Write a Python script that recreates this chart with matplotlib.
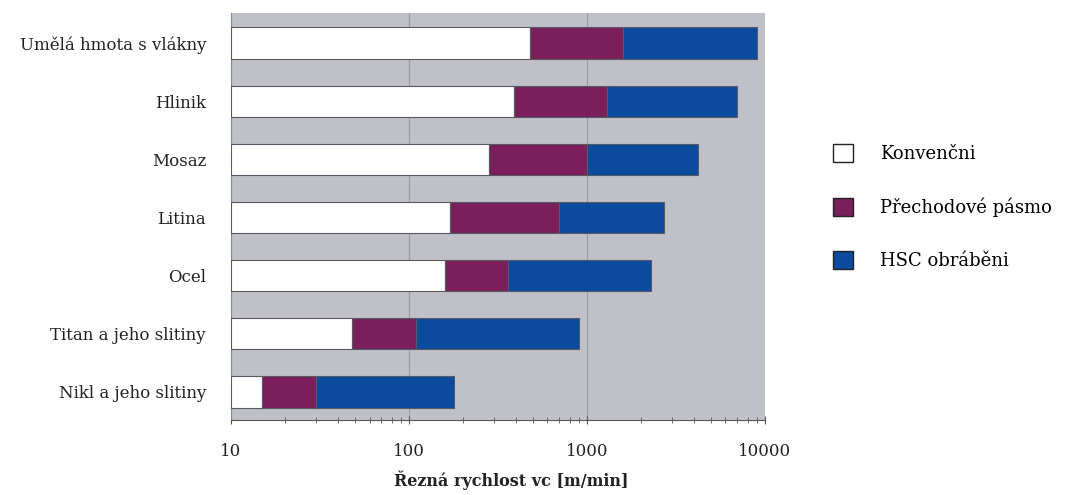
import matplotlib.pyplot as plt
import numpy as np
from matplotlib.patches import Patch

plt.rcParams["font.family"] = ["DejaVu Serif", "Liberation Serif"]

materials = ["Nikl a jeho slitiny", "Titan a jeho slitiny", "Ocel", "Litina",
             "Mosaz", "Hlinik", "Umělá hmota s vlákny"]
# upper bound of each zone [m/min]
konvencni = [15, 48, 160, 170, 280, 390, 480]
prechodove = [30, 110, 360, 700, 1000, 1300, 1600]
hsc = [180, 900, 2300, 2700, 4200, 7000, 9000]
series_labels = ["Konvenčni", "Přechodové pásmo", "HSC obráběni"]
x_ticks = [10, 100, 1000, 10000]

colors = ["#ffffff", "#7a1f5c", "#0b4a9c"]
bg = "#c0c0c8"

fig = plt.figure(figsize=(10.82, 4.95), dpi=100)
ax = fig.add_axes([0.2135, 0.152, 0.4935, 0.822])
ax.set_facecolor(bg)

y = np.arange(len(materials))
start = np.full(len(materials), 10.0)
for ends, c in zip([konvencni, prechodove, hsc], colors):
    ends = np.array(ends, dtype=float)
    ax.barh(y, ends - start, left=start, height=0.54, color=c,
            edgecolor="#5a5a66", linewidth=0.8, zorder=3)
    start = ends

ax.set_xscale("log")
ax.set_xlim(10, 10000)
ax.set_ylim(-0.48, 6.52)
ax.set_xticks(x_ticks)
ax.set_xticklabels([str(t) for t in x_ticks], fontsize=12, color="#222222")
ax.set_yticks(y)
ax.set_yticklabels(materials, fontsize=12, color="#222222")
ax.tick_params(axis="y", length=0, pad=18)
ax.tick_params(axis="x", which="both", direction="inout", color="#555555",
               pad=14)
ax.tick_params(axis="x", which="major", length=6)
ax.tick_params(axis="x", which="minor", length=4)
ax.grid(axis="x", which="major", color="#9a9aa4", linewidth=0.8, zorder=0)

for side in ["top", "right"]:
    ax.spines[side].set_visible(False)
ax.spines["left"].set_color("#8a8a94")
ax.spines["bottom"].set_color("#555555")

ax.set_xlabel("Řezná rychlost vc [m/min]", fontsize=11.5, fontweight="bold",
              color="#222222", labelpad=7, x=0.525)

handles = [Patch(facecolor=c, edgecolor="#222222", linewidth=1.0) for c in colors]
fig.legend(handles, series_labels, loc="upper left", bbox_to_anchor=(0.755, 0.741),
           frameon=False, fontsize=13, handlelength=1.1, handleheight=1.1,
           labelspacing=1.9, handletextpad=1.5)

fig.savefig("out.png", dpi=100, facecolor="white")
